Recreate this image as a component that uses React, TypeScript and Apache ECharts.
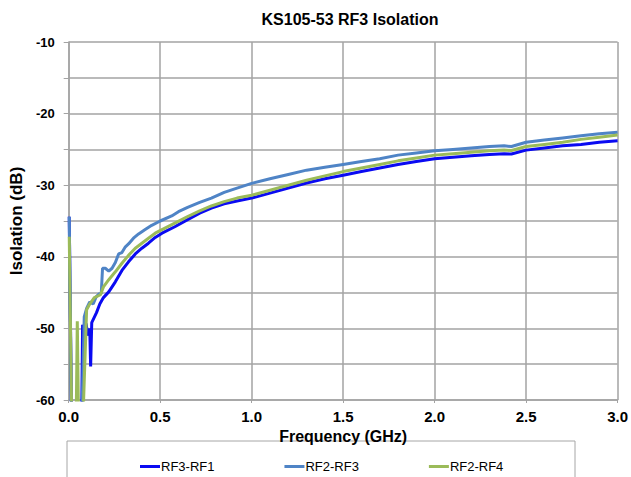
import React, { useEffect, useRef } from "react";
import * as echarts from "echarts";

const TITLE = "KS105-53 RF3 Isolation";
const SERIES_NAMES = ["RF3-RF1", "RF2-RF3", "RF2-RF4"];
const COLORS = ["#0A0AF2", "#4F84C6", "#9BBB59"];

// [frequency GHz, isolation dB]
const rf3rf1: [number, number][] = [
  [0.003, -34.4], [0.017, -65], [0.07, -65], [0.076, -49.5], [0.085, -50.5], [0.095, -49.3],
  [0.105, -51.0], [0.115, -50.0], [0.12, -55.3], [0.126, -49.2], [0.152, -47.8], [0.17, -46.6],
  [0.19, -45.7], [0.219, -44.9], [0.255, -43.5], [0.291, -41.9], [0.327, -40.7], [0.364, -39.6],
  [0.4, -38.8], [0.436, -38.1], [0.473, -37.3], [0.51, -36.7], [0.58, -35.8], [0.65, -34.8],
  [0.716, -33.9], [0.78, -33.2], [0.85, -32.6], [0.92, -32.2], [1.0, -31.8], [1.1, -31.1],
  [1.2, -30.4], [1.3, -29.7], [1.4, -29.1], [1.5, -28.6], [1.6, -28.1], [1.7, -27.6],
  [1.8, -27.1], [1.9, -26.7], [2.0, -26.3], [2.1, -26.1], [2.2, -25.9], [2.3, -25.7],
  [2.38, -25.6], [2.42, -25.65], [2.5, -25.1], [2.6, -24.8], [2.7, -24.5], [2.8, -24.3],
  [2.9, -24.0], [3.0, -23.8],
];

const rf2rf3: [number, number][] = [
  [0.003, -34.4], [0.016, -65], [0.07, -65], [0.085, -48.4], [0.098, -47.2], [0.115, -46.3],
  [0.134, -46.6], [0.15, -45.6], [0.165, -45.2], [0.178, -45.1], [0.185, -41.6], [0.2, -41.6],
  [0.219, -42.0], [0.237, -41.6], [0.255, -40.8], [0.273, -39.6], [0.291, -39.4], [0.31, -38.6],
  [0.327, -38.2], [0.354, -37.4], [0.382, -36.8], [0.418, -36.2], [0.454, -35.6], [0.5, -35.0],
  [0.563, -34.3], [0.6, -33.7], [0.65, -33.1], [0.716, -32.4], [0.78, -31.8], [0.85, -31.0],
  [0.92, -30.4], [1.0, -29.75], [1.1, -29.1], [1.2, -28.5], [1.3, -27.9], [1.4, -27.5],
  [1.5, -27.1], [1.6, -26.7], [1.7, -26.3], [1.8, -25.8], [1.9, -25.5], [2.0, -25.2],
  [2.1, -25.0], [2.2, -24.8], [2.3, -24.6], [2.38, -24.5], [2.42, -24.6], [2.5, -24.0],
  [2.6, -23.7], [2.7, -23.4], [2.8, -23.1], [2.9, -22.8], [3.0, -22.6],
];

const rf2rf4: [number, number][] = [
  [0.003, -37.2], [0.018, -65], [0.04, -65], [0.047, -49.0], [0.055, -65], [0.075, -65],
  [0.098, -47.4], [0.115, -46.6], [0.14, -45.7], [0.174, -45.3], [0.19, -44.2], [0.219, -43.2],
  [0.255, -42.1], [0.291, -40.9], [0.327, -39.8], [0.364, -38.8], [0.4, -38.1], [0.436, -37.4],
  [0.473, -36.7], [0.51, -36.2], [0.58, -35.3], [0.65, -34.4], [0.716, -33.6], [0.78, -32.9],
  [0.85, -32.3], [0.92, -31.8], [1.0, -31.4], [1.1, -30.7], [1.2, -30.0], [1.3, -29.3],
  [1.4, -28.7], [1.5, -28.1], [1.6, -27.6], [1.7, -27.1], [1.8, -26.6], [1.9, -26.2],
  [2.0, -25.8], [2.1, -25.6], [2.2, -25.4], [2.3, -25.2], [2.38, -25.1], [2.42, -25.15],
  [2.5, -24.6], [2.6, -24.3], [2.7, -24.0], [2.8, -23.6], [2.9, -23.3], [3.0, -23.0],
];

const SERIES_DATA = [rf3rf1, rf2rf3, rf2rf4];

const FONT = "'Liberation Sans', Arial, sans-serif";
const GRID_COLOR = "#A3A3A3";

export default function App() {
  const ref = useRef<HTMLDivElement>(null);
  useEffect(() => {
    if (!ref.current) return;
    const chart = echarts.init(ref.current, undefined, { renderer: "svg" });
    chart.setOption({
      animation: false,
      backgroundColor: "#ffffff",
      title: {
        text: TITLE,
        left: 345,
        top: 6,
        textAlign: "center",
        textStyle: { fontFamily: FONT, fontSize: 16, fontWeight: "bold", color: "#000" },
      },
      grid: { left: 68, right: 10, top: 42, bottom: 77, containLabel: false },
      legend: {
        data: SERIES_NAMES,
        left: 140,
        top: 460,
        padding: 0,
        itemWidth: 20,
        itemHeight: 3,
        itemGap: 70,
        icon: "rect",
        textStyle: { fontFamily: FONT, fontSize: 13, color: "#000", padding: [0, 0, 0, -4] },
      },
      graphic: [
        {
          type: "rect",
          shape: { x: 67, y: 441, width: 508, height: 60 },
          style: { fill: "none", stroke: "#A6A6A6", lineWidth: 1 },
          silent: true,
        },
      ],
      xAxis: {
        type: "value",
        min: 0,
        max: 3,
        interval: 0.5,
        name: "Frequency (GHz)",
        nameLocation: "middle",
        nameGap: 27,
        nameTextStyle: { fontFamily: FONT, fontSize: 16, fontWeight: "bold", color: "#000" },
        axisLine: { show: true, lineStyle: { color: GRID_COLOR, width: 1.5 } },
        axisTick: { show: true, length: 3, lineStyle: { color: GRID_COLOR } },
        axisLabel: {
          fontFamily: FONT,
          fontSize: 15,
          fontWeight: "bold",
          color: "#000",
          margin: 9,
          formatter: (v: number) => v.toFixed(1),
        },
        splitLine: { show: true, lineStyle: { color: GRID_COLOR, width: 1.5 } },
      },
      yAxis: {
        type: "value",
        min: -60,
        max: -10,
        interval: 5,
        name: "Isolation (dB)",
        nameLocation: "middle",
        nameGap: 43,
        nameTextStyle: { fontFamily: FONT, fontSize: 17, fontWeight: "bold", color: "#000" },
        axisLine: { show: true, lineStyle: { color: GRID_COLOR, width: 1.5 } },
        axisTick: { show: true, length: 5, lineStyle: { color: GRID_COLOR } },
        axisLabel: {
          fontFamily: FONT,
          fontSize: 13,
          fontWeight: "bold",
          color: "#000",
          margin: 14,
          formatter: (v: number) => (v % 10 === 0 ? String(v) : ""),
        },
        splitLine: { show: true, lineStyle: { color: GRID_COLOR, width: 1.5 } },
      },
      series: SERIES_NAMES.map((name, i) => ({
        name,
        type: "line",
        data: SERIES_DATA[i],
        showSymbol: false,
        symbol: "none",
        clip: true,
        lineStyle: { color: COLORS[i], width: 3 },
        itemStyle: { color: COLORS[i] },
      })),
    });
    return () => chart.dispose();
  }, []);
  return <div ref={ref} style={{ width: 631, height: 477, position: "absolute", left: 0, top: 0 }} />;
}
